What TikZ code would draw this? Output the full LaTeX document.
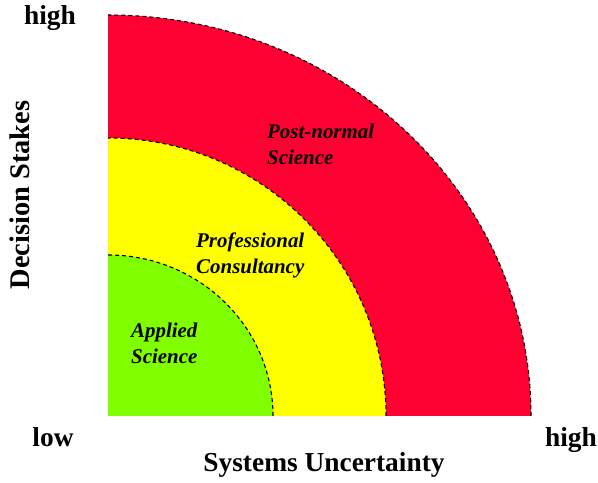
\documentclass[tikz,border=0pt]{standalone}
\usepackage{fontspec}
\setmainfont{Liberation Serif}
\definecolor{pnred}{RGB}{255,0,51}
\definecolor{pcyellow}{RGB}{255,255,0}
\definecolor{asgreen}{RGB}{128,255,0}
\tikzset{
  rim/.style={dash pattern=on 4bp off 3bp, line width=1.1bp},
  axislabel/.style={font=\fontsize{27.5}{31}\selectfont\bfseries, inner sep=0pt},
  zonelabel/.style={font=\fontsize{21}{26}\selectfont\bfseries\itshape, align=left, anchor=west, inner sep=0pt}
}
\begin{document}
\begin{tikzpicture}[x=1bp,y=1bp]
  \useasboundingbox (0,0) rectangle (598,483);
  \coordinate (O) at (108,67);
  % the three zones, outermost first
  \fill [pnred] (O) -- ++(423,0) arc[start angle=0,end angle=90,x radius=423,y radius=401] -- cycle;
  \fill [pcyellow] (O) -- ++(278,0) arc[start angle=0,end angle=90,x radius=278,y radius=278] -- cycle;
  \fill [asgreen] (O) -- ++(165,0) arc[start angle=0,end angle=90,x radius=165,y radius=161] -- cycle;
  \draw [rim] (O) ++(423,0) arc[start angle=0,end angle=90,x radius=423,y radius=401];
  \draw [rim] (O) ++(278,0) arc[start angle=0,end angle=90,x radius=278,y radius=278];
  \draw [rim] (O) ++(165,0) arc[start angle=0,end angle=90,x radius=165,y radius=161];
  % zone labels
  \node [zonelabel] (postnormal) at (267,339) {Post-normal\\Science};
  \node [zonelabel] (consultancy) at (196,228) {Professional\\Consultancy};
  \node [zonelabel] (applied) at (131,140) {Applied\\Science};
  % axes
  \node [axislabel] (yhigh) at (50,465) {high};
  \node [axislabel,font=\fontsize{28.5}{32}\selectfont\bfseries,rotate=90] (stakes) at (20,288) {Decision Stakes};
  \node [axislabel] (xlow) at (53,46) {low};
  \node [axislabel] (xhigh) at (571,43) {high};
  \node [axislabel] (uncertainty) at (324,18) {Systems Uncertainty};
\end{tikzpicture}
\end{document}
